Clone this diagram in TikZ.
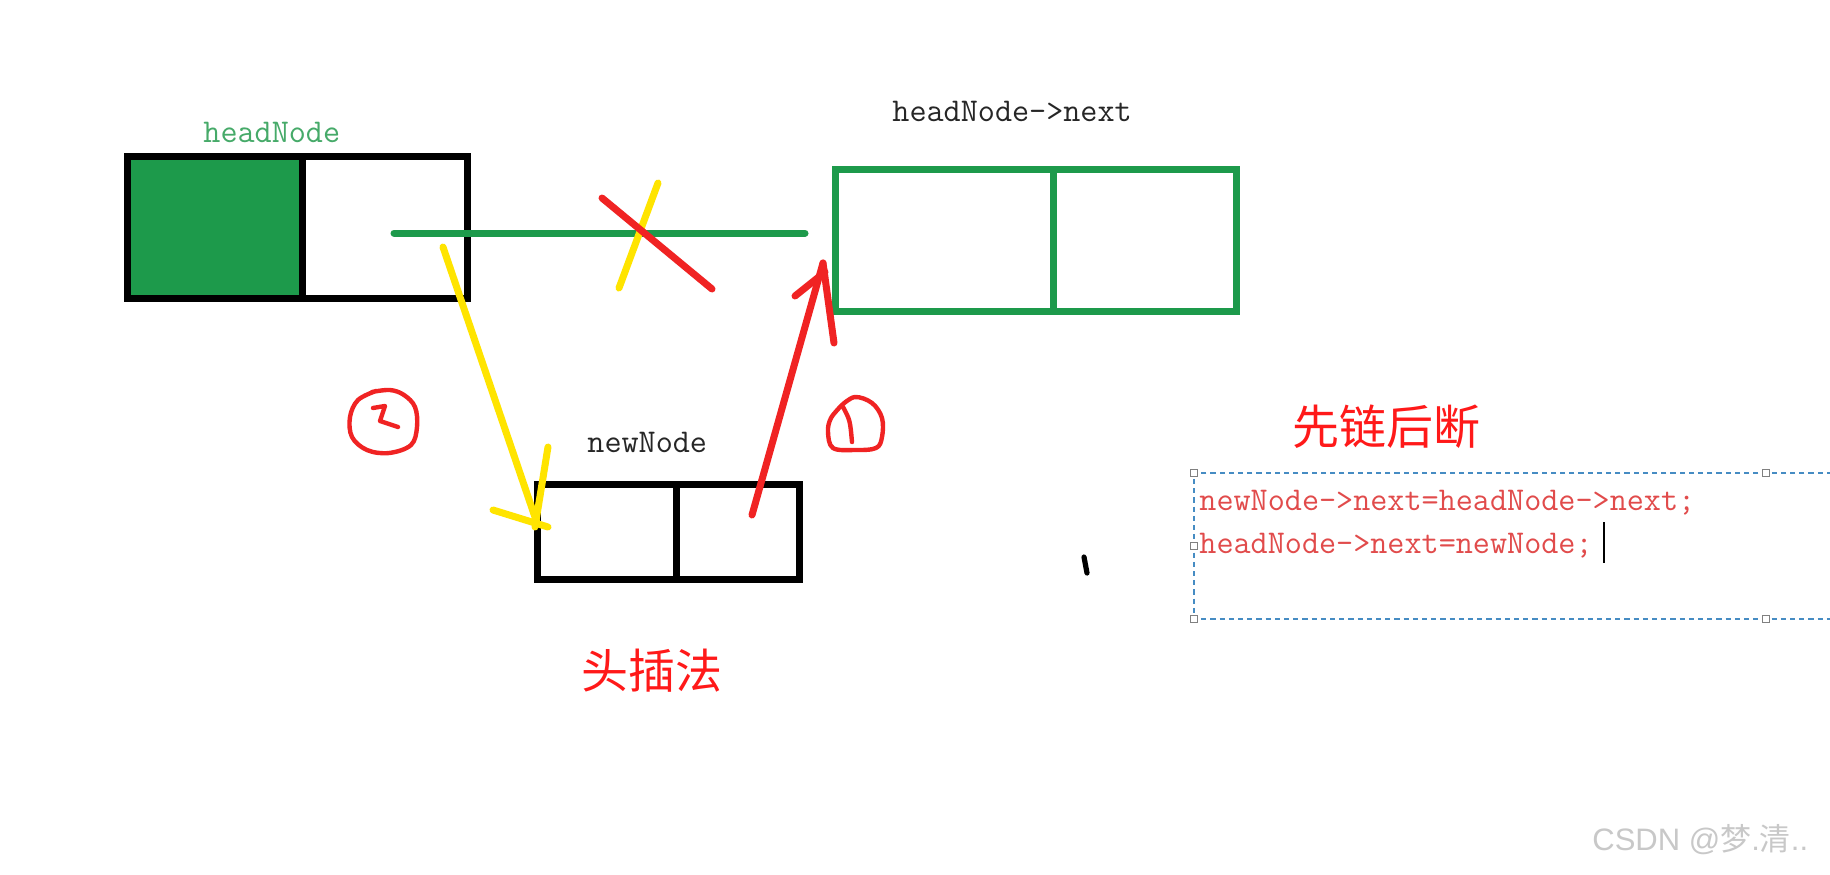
\documentclass[tikz,border=0pt]{standalone}
\usepackage{fontspec}
\newfontfamily\cjk{Noto Sans CJK SC}
\newfontfamily\wmfont{Liberation Sans}
\definecolor{boxgreen}{RGB}{29,154,75}
\definecolor{labelgreen}{RGB}{70,170,105}
\definecolor{penred}{RGB}{240,35,35}
\definecolor{penyellow}{RGB}{255,228,0}
\definecolor{codered}{RGB}{225,75,75}
\definecolor{titlered}{RGB}{255,25,25}
\definecolor{dashblue}{RGB}{70,140,195}
\definecolor{wmgray}{RGB}{200,200,200}
\begin{document}
\begin{tikzpicture}[x=0.5pt,y=-0.5pt,
  cell/.style={draw, line width=3.5pt, line join=miter, inner sep=0pt, outer sep=0pt},
  pen/.style={line width=3.5pt, line cap=round, line join=round},
  thinpen/.style={line width=2.2pt, line cap=round, line join=round, penred},
  code/.style={font=\ttfamily\fontsize{16.6pt}{20pt}\selectfont, inner sep=0pt, anchor=base west},
  cjktitle/.style={font=\cjk\fontsize{23.5pt}{28pt}\selectfont, text=titlered, inner sep=0pt},
  handle/.style={draw=gray, fill=white, line width=0.6pt, minimum size=3.5pt, inner sep=0pt}]
\useasboundingbox[fill=white] (0,0) rectangle (1830,874);

% boxes
\node[cell, fill=boxgreen, minimum width=87.5pt, minimum height=71pt] (hdata) at (214.5,227) {};
\node[cell, minimum width=82.5pt, minimum height=71pt] (hnext) at (384.5,227) {};
\node[cell, draw=boxgreen, minimum width=109pt, minimum height=71pt] (gdata) at (944,240) {};
\node[cell, draw=boxgreen, minimum width=91.5pt, minimum height=71pt] (gnext) at (1144.5,240) {};
\node[cell, minimum width=69.5pt, minimum height=47.5pt] (ndata) at (606.5,531.5) {};
\node[cell, minimum width=61.5pt, minimum height=47.5pt] (nnext) at (737.5,531.5) {};

% labels
\node[code, text=labelgreen] (lhead) at (203,142) {headNode};
\node[code, text=black!85] (lnext) at (892,121) {headNode->next};
\node[code, text=black!85] (lnew) at (587,452) {newNode};

% old link (green) and its crossing-out
\coordinate (gstart) at (394,233);
\coordinate (gend) at (805,233);
\draw[pen, boxgreen] (gstart) -- (gend);
\coordinate (yc1) at (658,183); \coordinate (yc2) at (619,288);
\draw[pen, penyellow] (yc1) -- (yc2);
\coordinate (rc1) at (602,198); \coordinate (rc2) at (712,289);
\draw[pen, penred] (rc1) -- (rc2);

% yellow arrow (2)
\coordinate (ystart) at (443,247); \coordinate (ytip) at (537,523);
\coordinate (yb1) at (548,447); \coordinate (yb1e) at (535,527);
\coordinate (yb2) at (493,510); \coordinate (yb2e) at (548,527);
\draw[pen, penyellow] (ystart) -- (ytip);
\draw[pen, penyellow] (yb1) -- (yb1e);
\draw[pen, penyellow] (yb2) -- (yb2e);

% red arrow (1)
\coordinate (rstart) at (752,515); \coordinate (rtip) at (823,263);
\coordinate (rb1) at (795,296); \coordinate (rb1e) at (825,272);
\coordinate (rb2e) at (834,343);
\draw[pen, penred] (rstart) -- (rtip);
\draw[pen, penred] (rb1) -- (rb1e);
\draw[pen, penred] (rtip) -- (rb2e);

% hand-drawn circled numbers
\draw[thinpen] plot[smooth, tension=0.6] coordinates {(372,392) (390,390) (404,395) (415,407) (417,427) (411,445) (389,453) (367,450) (352,437) (350,417) (358,400) (376,391)};
\coordinate (n2a) at (373,408); \coordinate (n2b) at (385,406);
\coordinate (n2c) at (380,421); \coordinate (n2d) at (398,427);
\draw[thinpen] (n2a) -- (n2b) -- (n2c) -- (n2d);
\draw[thinpen] plot[smooth, tension=0.6] coordinates {(842,405) (855,397) (872,403) (882,418) (882,437) (876,448) (855,450) (833,448) (828,432) (831,418) (842,405)};
\coordinate (n1a) at (843,407); \coordinate (n1b) at (852,442);
\draw[thinpen] (n1a) .. controls (850,420) .. (n1b);

% small stray mark
\coordinate (m1) at (1084,557); \coordinate (m2) at (1087,573);
\draw[line width=2.6pt, line cap=round] (m1) -- (m2);

% titles
\node[cjktitle] (t1) at (1386,427) {先链后断};
\node[cjktitle] (t2) at (652,671) {头插法};

% text frame
\coordinate (f1) at (1832,473); \coordinate (f2) at (1194,473);
\coordinate (f3) at (1194,619); \coordinate (f4) at (1832,619);
\draw[dashblue, line width=1pt, dash pattern=on 2.6pt off 2pt] (f1) -- (f2) -- (f3) -- (f4);
\node[handle] (h1) at (1194,473) {};
\node[handle] (h2) at (1766,473) {};
\node[handle] (h3) at (1194,546) {};
\node[handle] (h4) at (1194,619) {};
\node[handle] (h5) at (1766,619) {};

% code
\node[code, text=codered] (c1) at (1199,510) {newNode->next=headNode->next;};
\node[code, text=codered] (c2) at (1199,553) {headNode->next=newNode;};
\coordinate (cur1) at (1604,522); \coordinate (cur2) at (1604,563);
\draw[line width=0.8pt] (cur1) -- (cur2);

% watermark
\node[font=\wmfont\fontsize{15.5pt}{18pt}\selectfont, text=wmgray, anchor=west, inner sep=0pt] (wm) at (1592,840) {CSDN @{\cjk 梦}.{\cjk 清}..};
\end{tikzpicture}
\end{document}
